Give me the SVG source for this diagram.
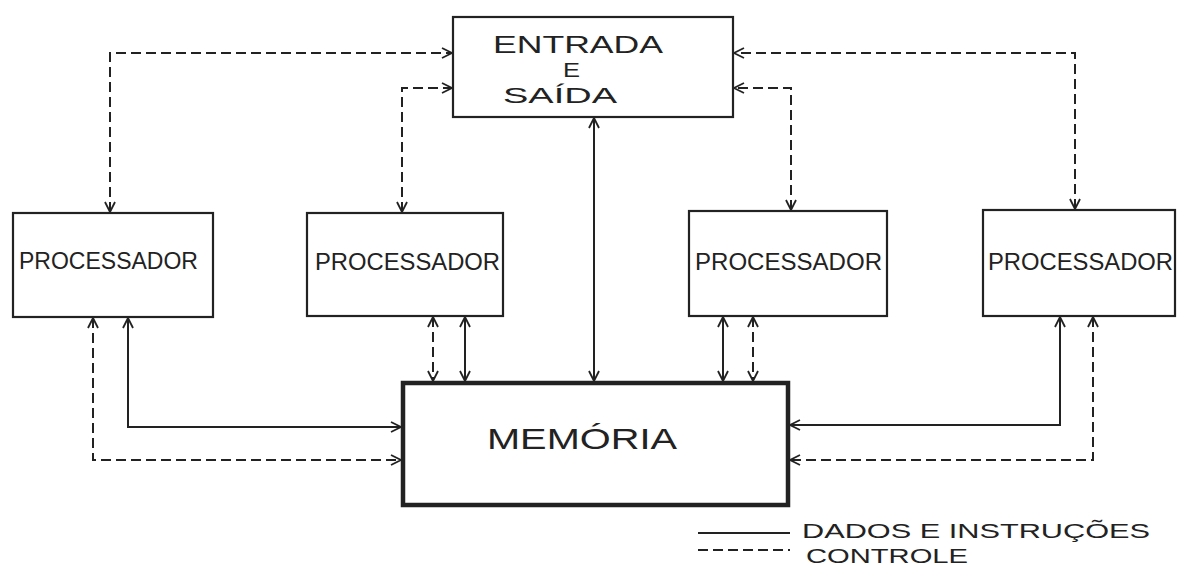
<svg xmlns="http://www.w3.org/2000/svg" width="1181" height="565" viewBox="0 0 1181 565">
<style>
.box{fill:#fff;stroke:#222;stroke-width:2.2}
.mem{fill:#fff;stroke:#222;stroke-width:4.5}
.lbl{font-family:"Liberation Sans",Arial,sans-serif;fill:#222}
.s{fill:none;stroke:#222;stroke-width:2}
.d{fill:none;stroke:#222;stroke-width:2;stroke-dasharray:10 5}
</style>
<defs>
<marker id="ah" viewBox="0 0 12 12" refX="11" refY="6" markerWidth="12" markerHeight="12" markerUnits="userSpaceOnUse" orient="auto-start-reverse">
<path d="M1,1 L11,6 L1,11" fill="none" stroke="#222" stroke-width="1.8"/>
</marker>
</defs>
<rect width="1181" height="565" fill="#fff"/>
<g id="connectors">
<path class="d" d="M110,212 V53 H452" marker-start="url(#ah)" marker-end="url(#ah)"/>
<path class="d" d="M402,212 V88 H452" marker-start="url(#ah)" marker-end="url(#ah)"/>
<path class="d" d="M791,210 V88 H734" marker-start="url(#ah)" marker-end="url(#ah)"/>
<path class="d" d="M1075,209 V53 H734" marker-start="url(#ah)" marker-end="url(#ah)"/>
<path class="s" d="M594,118 V381" marker-start="url(#ah)" marker-end="url(#ah)"/>
<path class="s" d="M128,318 V427 H401" marker-start="url(#ah)" marker-end="url(#ah)"/>
<path class="d" d="M93,318 V460 H401" marker-start="url(#ah)" marker-end="url(#ah)"/>
<path class="d" d="M433,317 V381" marker-start="url(#ah)" marker-end="url(#ah)"/>
<path class="s" d="M465,317 V381" marker-start="url(#ah)" marker-end="url(#ah)"/>
<path class="s" d="M723,317 V381" marker-start="url(#ah)" marker-end="url(#ah)"/>
<path class="d" d="M753,317 V381" marker-start="url(#ah)" marker-end="url(#ah)"/>
<path class="s" d="M1060,317 V425 H790" marker-start="url(#ah)" marker-end="url(#ah)"/>
<path class="d" d="M1093,317 V460 H790" marker-start="url(#ah)" marker-end="url(#ah)"/>
</g>
<g id="entrada">
<rect class="box" x="453" y="17" width="280" height="100"/>
<text class="lbl" x="493" y="53" font-size="24" textLength="170" lengthAdjust="spacingAndGlyphs">ENTRADA</text>
<text class="lbl" x="563" y="77" font-size="20" textLength="17" lengthAdjust="spacingAndGlyphs">E</text>
<text class="lbl" x="503" y="103" font-size="22" textLength="114" lengthAdjust="spacingAndGlyphs">SAÍDA</text>
</g>
<g id="proc1">
<rect class="box" x="13" y="213" width="200" height="104"/>
<text class="lbl" x="19" y="269" font-size="23" textLength="179" lengthAdjust="spacingAndGlyphs">PROCESSADOR</text>
</g>
<g id="proc2">
<rect class="box" x="307" y="213" width="196" height="103"/>
<text class="lbl" x="315" y="270" font-size="23" textLength="185" lengthAdjust="spacingAndGlyphs">PROCESSADOR</text>
</g>
<g id="proc3">
<rect class="box" x="689" y="211" width="198" height="105"/>
<text class="lbl" x="695" y="270" font-size="23" textLength="187" lengthAdjust="spacingAndGlyphs">PROCESSADOR</text>
</g>
<g id="proc4">
<rect class="box" x="983" y="210" width="192" height="106"/>
<text class="lbl" x="988" y="270" font-size="23" textLength="185" lengthAdjust="spacingAndGlyphs">PROCESSADOR</text>
</g>
<g id="memoria">
<rect class="mem" x="403" y="383" width="385" height="122"/>
<text class="lbl" x="487" y="449" font-size="29" textLength="190" lengthAdjust="spacingAndGlyphs">MEMÓRIA</text>
</g>
<g id="legend">
<line class="s" x1="698" y1="533" x2="790" y2="533" stroke-width="2.5"/>
<line class="d" x1="698" y1="550" x2="790" y2="550" stroke-dasharray="14 6"/>
<text class="lbl" x="802" y="538" font-size="21" textLength="348" lengthAdjust="spacingAndGlyphs">DADOS E INSTRUÇÕES</text>
<text class="lbl" x="806" y="563" font-size="21" textLength="162" lengthAdjust="spacingAndGlyphs">CONTROLE</text>
</g>
</svg>
